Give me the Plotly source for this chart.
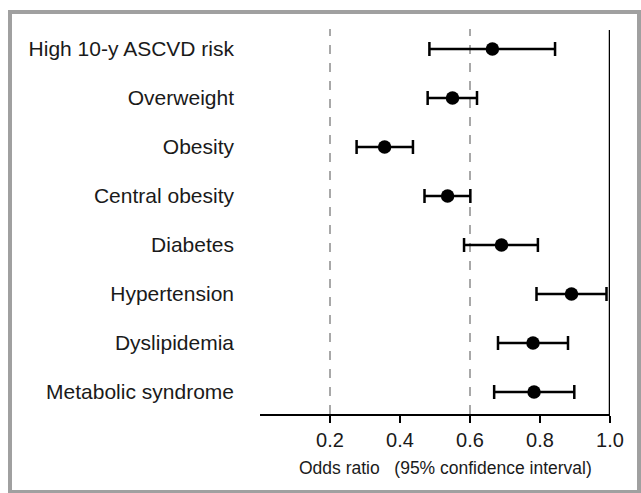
import plotly.graph_objects as go

categories = ["High 10-y ASCVD risk", "Overweight", "Obesity", "Central obesity",
              "Diabetes", "Hypertension", "Dyslipidemia", "Metabolic syndrome"]
odds_ratio = [0.664, 0.550, 0.356, 0.536, 0.690, 0.890, 0.780, 0.783]
ci_low = [0.484, 0.479, 0.276, 0.470, 0.583, 0.790, 0.680, 0.669]
ci_high = [0.843, 0.620, 0.437, 0.601, 0.794, 0.990, 0.880, 0.898]
x_ticks = [0.2, 0.4, 0.6, 0.8, 1.0]
x_ticktext = ["0.2", "0.4", "0.6", "0.8", "1.0"]
ref_lines = [0.2, 0.6]
x_title = "Odds ratio\u00a0\u00a0\u00a0(95% confidence interval)"

ypos = list(range(1, len(categories) + 1))
W, H = 641, 493
L, R, T, B = 260, 31, 29, 79
pw, ph = W - L - R, H - T - B

fig = go.Figure()
fig.add_trace(go.Scatter(
    x=odds_ratio, y=ypos, mode="markers",
    marker=dict(color="black", size=13.5),
    error_x=dict(type="data", symmetric=False,
                 array=[h - o for h, o in zip(ci_high, odds_ratio)],
                 arrayminus=[o - l for o, l in zip(odds_ratio, ci_low)],
                 color="black", thickness=2.5, width=7),
    showlegend=False, hoverinfo="skip"))

shapes = []
for v in ref_lines:
    shapes.append(dict(type="line", xref="x", yref="paper", x0=v, x1=v, y0=0, y1=1,
                       line=dict(color="#a8a8a8", width=2, dash="dash"), layer="below"))
shapes.append(dict(type="line", xref="x", yref="paper", x0=1.0, x1=1.0, y0=0,
                   y1=(414 - 30) / ph, line=dict(color="black", width=2.5)))
shapes.append(dict(type="rect", xref="paper", yref="paper",
                   x0=(10 - L) / pw, x1=(639 - L) / pw,
                   y0=(414 - 492) / ph, y1=(414 - 12) / ph,
                   line=dict(color="#a0a0a0", width=4)))

fig.add_annotation(text=x_title, xref="paper", yref="paper",
                   x=(445 - L) / pw, y=(414 - 468) / ph,
                   xanchor="center", yanchor="middle", showarrow=False,
                   font=dict(size=17.5, color="#1a1a1a"))

fig.update_layout(
    width=W, height=H, margin=dict(l=L, r=R, t=T, b=B),
    paper_bgcolor="white", plot_bgcolor="white",
    font=dict(family="Liberation Sans, Arial, sans-serif", color="#1a1a1a"),
    shapes=shapes,
    xaxis=dict(range=[0, 1.0], tickvals=x_ticks, ticktext=x_ticktext,
               showgrid=False, zeroline=False, showline=True, linecolor="black",
               linewidth=2, ticks="outside", ticklen=7, tickwidth=2, tickcolor="black",
               tickfont=dict(size=20, color="#1a1a1a")),
    yaxis=dict(range=[0.592 + ph / 49, 0.592], tickvals=ypos, ticktext=categories,
               showgrid=False, zeroline=False, showline=False, ticks="",
               ticklabelstandoff=25,
               tickfont=dict(size=21, color="#1a1a1a")),
)

fig.write_html("out.html")
